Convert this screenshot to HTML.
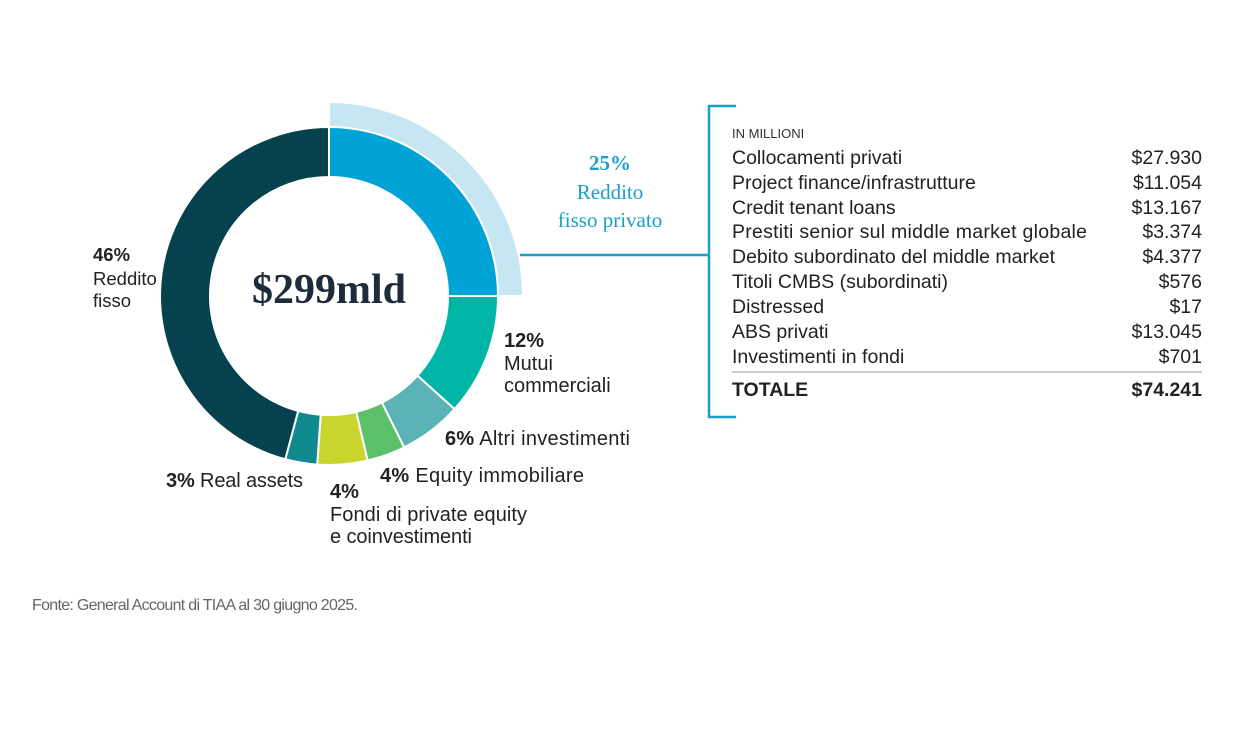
<!DOCTYPE html>
<html><head><meta charset="utf-8"><style>
body{margin:0;background:#fff;}
svg{display:block}
</style></head><body>
<svg id="s" width="1256" height="729" xmlns="http://www.w3.org/2000/svg" font-family="Liberation Sans, sans-serif">
<g id="arcs"></g>
<text x="329" y="303" text-anchor="middle" font-family="Liberation Serif, serif" font-weight="bold" font-size="42" fill="#1d2b3a">$299mld</text>
<g font-family="Liberation Serif, serif" fill="#1aa0c8" font-size="21" text-anchor="middle">
<text x="610" y="170" font-weight="bold">25%</text>
<text x="610" y="199">Reddito</text>
<text x="610" y="227">fisso privato</text>
</g>
<line x1="520" y1="255" x2="709" y2="255" stroke="#1aa0c8" stroke-width="2.5"/>
<path d="M736 106 H709 V417 H736" fill="none" stroke="#1aa0c8" stroke-width="2.5"/>
<g fill="#222" font-size="19.5">
<text x="732" y="138" font-size="13" fill="#333">IN MILLIONI</text>
<text x="732" y="164">Collocamenti privati</text>
<text x="732" y="189">Project finance/infrastrutture</text>
<text x="732" y="214">Credit tenant loans</text>
<text x="732" y="238" textLength="355">Prestiti senior sul middle market globale</text>
<text x="732" y="263">Debito subordinato del middle market</text>
<text x="732" y="288">Titoli CMBS (subordinati)</text>
<text x="732" y="313">Distressed</text>
<text x="732" y="338">ABS privati</text>
<text x="732" y="363">Investimenti in fondi</text>
<text x="732" y="396" font-weight="bold">TOTALE</text>
<g text-anchor="end">
<text x="1202" y="164">$27.930</text>
<text x="1202" y="189">$11.054</text>
<text x="1202" y="214">$13.167</text>
<text x="1202" y="238">$3.374</text>
<text x="1202" y="263">$4.377</text>
<text x="1202" y="288">$576</text>
<text x="1202" y="313">$17</text>
<text x="1202" y="338">$13.045</text>
<text x="1202" y="363">$701</text>
<text x="1202" y="396" font-weight="bold">$74.241</text>
</g>
</g>
<line x1="732" y1="372" x2="1202" y2="372" stroke="#999" stroke-width="1"/>
<g fill="#222" font-size="20">
<text x="93" y="261" font-weight="bold" font-size="18.5">46%</text>
<text x="93" y="285" font-size="18.5">Reddito</text>
<text x="93" y="307" font-size="18.5">fisso</text>
<text x="504" y="347" font-weight="bold">12%</text>
<text x="504" y="370">Mutui</text>
<text x="504" y="392">commerciali</text>
<text x="445" y="445" textLength="185"><tspan font-weight="bold">6%</tspan> Altri investimenti</text>
<text x="380" y="482" textLength="204"><tspan font-weight="bold">4%</tspan> Equity immobiliare</text>
<text x="166" y="487" textLength="137"><tspan font-weight="bold">3%</tspan> Real assets</text>
<text x="330" y="498" font-weight="bold">4%</text>
<text x="330" y="521" textLength="197">Fondi di private equity</text>
<text x="330" y="543" textLength="142">e coinvestimenti</text>
</g>
<text x="32" y="610" font-size="16" fill="#666" textLength="326">Fonte: General Account di TIAA al 30 giugno 2025.</text>
</svg>
<script>
var cx=329,cy=296;
function pt(r,a){a=a*Math.PI/180;return [cx+r*Math.sin(a),cy-r*Math.cos(a)];}
function arc(r1,r2,a1,a2,c){var p1=pt(r2,a1),p2=pt(r2,a2),p3=pt(r1,a2),p4=pt(r1,a1);var l=(a2-a1)>180?1:0;
return '<path d="M'+p1+' A'+r2+' '+r2+' 0 '+l+' 1 '+p2+' L'+p3+' A'+r1+' '+r1+' 0 '+l+' 0 '+p4+' Z" fill="'+c+'" stroke="#fff" stroke-width="2"/>';}
var h=arc(169,194,0,90,'#c6e6f2');
var segs=[[0,90,'#00a3d6'],[90,132,'#00b5a5'],[132,153.6,'#5bb3b5'],[153.6,166.8,'#5cbf6a'],[166.8,184,'#c9d52e'],[184,195,'#0f8a8e'],[195,360,'#06424d']];
segs.forEach(function(s){h+=arc(119,169,s[0],s[1],s[2]);});
document.getElementById('arcs').innerHTML=h;
</script>
</body></html>
